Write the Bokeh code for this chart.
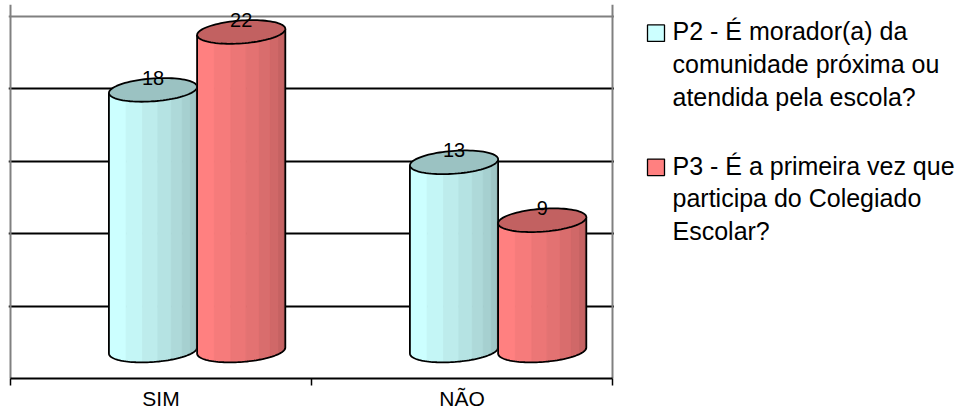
import numpy as np
from bokeh.plotting import figure
from bokeh.layouts import row
from bokeh.models import (Range1d, FixedTicker, ColumnDataSource, Grid, LabelSet)
from bokeh.core.properties import value
from bokeh.embed import file_html
from bokeh.resources import INLINE

# ---------------- data ----------------
categories = ["SIM", "NÃO"]
series_label_lines = [
    ["P2 - É morador(a) da", "comunidade próxima ou", "atendida pela escola?"],
    ["P3 - É a primeira vez que", "participa do Colegiado", "Escolar?"],
]
p2_values = [18, 13]
p3_values = [22, 9]
series_values = [p2_values, p3_values]
series_colors = ["#CCFFFF", "#FF8080"]
y_max = 25
grid_ticks = [5, 10, 15, 20]

# ---------------- style / geometry constants ----------------
FONT = "Liberation Sans"
PX_Y = 14.52           # pixels per y unit (frame 363 px for 25 units)
PX_X = 301.0           # pixels per x unit (frame 602 px for 2 categories)
BORDER_TOP, BORDER_BOTTOM = 4, 33
FRAME_BOTTOM_PX = 412 - BORDER_BOTTOM
bar_w = 0.293          # cylinder width (x units)
depth_dx = 0.12        # 3-D depth shift to the right (x units)
floor_dy = 1.93        # 3-D depth shift upwards (y units)
ell_b = 0.79           # half height of the cylinder ellipse (y units)
ell_s = 0.21           # tilt of the ellipse (y units)
label_gap = 0.37       # data label baseline above the top ellipse centre
n_strips = 8
top_pad_px = 12        # extra room above the plot border for the data labels
side_pad_px = 2

def shade(hex_color, f):
    r, g, b = (int(hex_color[i:i + 2], 16) for i in (1, 3, 5))
    return "#%02x%02x%02x" % (round(r * f), round(g * f), round(b * f))

def ell(cx, cy, t):
    hw = bar_w / 2
    return cx + hw * np.cos(t), cy + ell_b * np.sin(t) + ell_s * np.cos(t)

n_cat = len(categories)
x_pad = side_pad_px / PX_X
y_range = Range1d(0, y_max + top_pad_px / PX_Y)
p = figure(width=614, height=412,
           x_range=Range1d(-x_pad, n_cat + x_pad), y_range=y_range,
           output_backend="svg", toolbar_location=None, y_axis_location=None,
           min_border_left=8, min_border_right=0,
           min_border_top=BORDER_TOP, min_border_bottom=BORDER_BOTTOM)
p.background_fill_color = "white"
p.border_fill_color = "white"
p.outline_line_color = None
p.xgrid.visible = False
# horizontal grid lines
p.add_layout(Grid(dimension=1, ticker=FixedTicker(ticks=grid_ticks), bounds=(0, n_cat),
                  grid_line_color="black", grid_line_width=2))
# plot-area border (gray)
p.add_layout(Grid(dimension=1, ticker=FixedTicker(ticks=[y_max]), bounds=(0, n_cat),
                  grid_line_color="#808080", grid_line_width=2))
p.add_layout(Grid(dimension=0, ticker=FixedTicker(ticks=[0, n_cat]), bounds=(0, y_max),
                  grid_line_color="#808080", grid_line_width=2))

ax = p.xaxis[0]
ax.bounds = (0, n_cat)
ax.ticker = FixedTicker(ticks=[i + 0.5 for i in range(n_cat)],
                        minor_ticks=list(range(n_cat + 1)))
ax.major_label_overrides = {i + 0.5: c for i, c in enumerate(categories)}
ax.axis_line_color = "black"
ax.axis_line_width = 2
ax.major_tick_out = 0
ax.major_tick_in = 0
ax.minor_tick_out = 7
ax.minor_tick_in = 0
ax.minor_tick_line_color = "black"
ax.minor_tick_line_width = 1.5
ax.major_label_standoff = 1
ax.major_label_text_font = FONT
ax.major_label_text_font_size = "21px"
ax.major_label_text_color = "black"

for j, (vals, col) in enumerate(zip(series_values, series_colors)):
    strip_xs, strip_ys, strip_cols = [], [], []
    out_xs, out_ys = [], []
    top_xs, top_ys = [], []
    lab_x, lab_y, lab_t = [], [], []
    for i, v in enumerate(vals):
        cx = i + 0.5 + depth_dx + (j - 0.5) * bar_w
        y0 = floor_dy
        y1 = v + floor_dy
        fk = np.sin(np.pi / 2 * np.arange(n_strips + 1) / n_strips)
        tk = 2 * np.pi - np.arccos(np.clip(2 * fk - 1, -1, 1))
        for k in range(n_strips):
            t = np.linspace(tk[k], tk[k + 1], 8)
            xt, yt = ell(cx, y1, t)
            xb, yb = ell(cx, y0, t)
            strip_xs.append(list(np.concatenate([xt, xb[::-1]])))
            strip_ys.append(list(np.concatenate([yt, yb[::-1]])))
            strip_cols.append(shade(col, 1.0 - 0.26 * k / (n_strips - 1)))
        tf = np.linspace(np.pi, 2 * np.pi, 60)
        xb, yb = ell(cx, y0, tf)
        xl, yl = ell(cx, y1, np.array([np.pi]))
        xr, yr = ell(cx, y1, np.array([2 * np.pi]))
        out_xs.append(list(np.concatenate([xl, xb, xr])))
        out_ys.append(list(np.concatenate([yl, yb, yr])))
        ta = np.linspace(0, 2 * np.pi, 90)
        xe, ye = ell(cx, y1, ta)
        top_xs.append(list(xe))
        top_ys.append(list(ye))
        lab_x.append(cx)
        lab_y.append(y1 + label_gap)
        lab_t.append(str(v))
    p.patches(strip_xs, strip_ys, fill_color=strip_cols, line_color=strip_cols, line_width=1)
    p.multi_line(out_xs, out_ys, line_color="black", line_width=1.8)
    p.patches(top_xs, top_ys, fill_color=shade(col, 0.76), line_color="black", line_width=1.8)
    src = ColumnDataSource(dict(x=lab_x, y=lab_y, t=lab_t))
    p.add_layout(LabelSet(x="x", y="y", text="t", source=src, text_align="center",
                          text_baseline="alphabetic", text_font=value(FONT),
                          text_font_size=value("20px"), text_color="black"))

# ---------------- legend panel (shares the chart's y scale) ----------------
LEG_W = 351
leg = figure(width=LEG_W, height=412, x_range=Range1d(614, 614 + LEG_W), y_range=y_range,
             output_backend="svg", toolbar_location=None,
             x_axis_location=None, y_axis_location=None,
             min_border_left=0, min_border_right=0,
             min_border_top=BORDER_TOP, min_border_bottom=BORDER_BOTTOM)
leg.outline_line_color = None
leg.grid.visible = False
leg.background_fill_color = "white"
leg.border_fill_color = "white"

def py(y_px):
    return (FRAME_BOTTOM_PX - y_px) / PX_Y

box_left, box_w, box_h = 647, 17, 16.5
text_left = 672
first_baselines_px = [41, 175.5]
line_h_px = 33
text_shift_px = 10     # compensation of the text glyph's baseline placement
sq_l, sq_r, sq_t, sq_b, sq_c = [], [], [], [], []
tx, ty, tt = [], [], []
for j, lines in enumerate(series_label_lines):
    b0 = first_baselines_px[j]
    sq_l.append(box_left)
    sq_r.append(box_left + box_w)
    sq_t.append(py(b0 - box_h))
    sq_b.append(py(b0))
    sq_c.append(series_colors[j])
    for k, line in enumerate(lines):
        tx.append(text_left)
        ty.append(py(b0 + k * line_h_px - text_shift_px))
        tt.append(line)
leg.quad(left=sq_l, right=sq_r, top=sq_t, bottom=sq_b, fill_color=sq_c,
         line_color="black", line_width=1.3)
leg.text(x=tx, y=ty, text=tt, text_font=value(FONT), text_font_size=value("25px"),
         text_baseline="alphabetic", text_align="left", text_color="black")

layout = row(p, leg)
open("out.html", "w").write(file_html(layout, INLINE))
